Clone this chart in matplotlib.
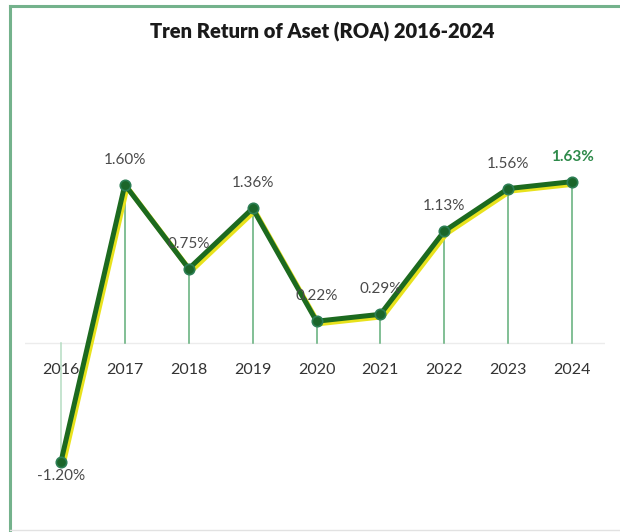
import matplotlib
matplotlib.use("Agg")
import matplotlib.pyplot as plt
import matplotlib.transforms as mtransforms
from matplotlib.lines import Line2D

years = ["2016", "2017", "2018", "2019", "2020", "2021", "2022", "2023", "2024"]
roa = [-1.20, 1.60, 0.75, 1.36, 0.22, 0.29, 1.13, 1.56, 1.63]
labels = ["-1.20%", "1.60%", "0.75%", "1.36%", "0.22%", "0.29%", "1.13%", "1.56%", "1.63%"]

plt.rcParams["font.family"] = ["Lato", "DejaVu Sans"]

fig = plt.figure(figsize=(6.2, 5.32), dpi=100)
fig.patch.set_facecolor("white")

# card border: green left/top, faint grey bottom
fig.add_artist(Line2D([10 / 620, 10 / 620], [0, 1 - 6 / 532], color="#74b28c", lw=2.2))
fig.add_artist(Line2D([10 / 620, 1], [1 - 6 / 532, 1 - 6 / 532], color="#74b28c", lw=2.2))
fig.add_artist(Line2D([10 / 620, 1], [2 / 532, 2 / 532], color="#e2e2e2", lw=1))

ax = fig.add_axes([25 / 620, 22 / 532, 580 / 620, 450 / 532])
ax.set_xlim(-0.563, 8.516)
ax.set_ylim(-1.687, 2.859)
ax.axis("off")

x = list(range(len(years)))

# zero baseline
ax.axhline(0, color="#ececec", lw=1, zorder=1)

# drop lines from each point to zero
for xi, v in zip(x, roa):
    ax.plot([xi, xi], [0, v], color="#5fae78" if v >= 0 else "#b5dcc2",
            lw=1.1, zorder=2)

# yellow shadow under the line
shadow = mtransforms.offset_copy(ax.transData, fig=fig, x=2.2, y=-2.5, units="dots")
ax.plot(x, roa, color="#e8e21c", lw=3.6, transform=shadow, zorder=3,
        solid_capstyle="round", solid_joinstyle="round")
ax.plot(x, roa, color="#1c6a1f", lw=3.6, zorder=4,
        solid_capstyle="round", solid_joinstyle="round")
ax.plot(x, roa, "o", color="#1b662a", ms=7.5, mec="#2d7f55", mew=1.2, zorder=5)

# value labels
for xi, v, lab in zip(x, roa, labels):
    last = xi == len(x) - 1
    dy = 18 if v >= 0 else -10
    ax.annotate(lab, (xi, v), xytext=(0, dy), textcoords="offset points",
                ha="center", va="center", fontsize=11,
                color="#2e8a4a" if last else "#4a4a4a",
                fontweight="bold" if last else "normal", zorder=6)

# year labels sitting under the zero line
for xi, yr in zip(x, years):
    ax.annotate(yr, (xi, 0), xytext=(0, -19.4), textcoords="offset points",
                ha="center", va="center", fontsize=11.5, color="#333333", zorder=6)

fig.text(322 / 620, 1 - 32 / 532, "Tren Return of Aset (ROA) 2016-2024",
         ha="center", va="center", fontsize=14.5, fontweight="heavy", color="#1a1a1a")

fig.savefig("out.png", dpi=100, facecolor="white")
